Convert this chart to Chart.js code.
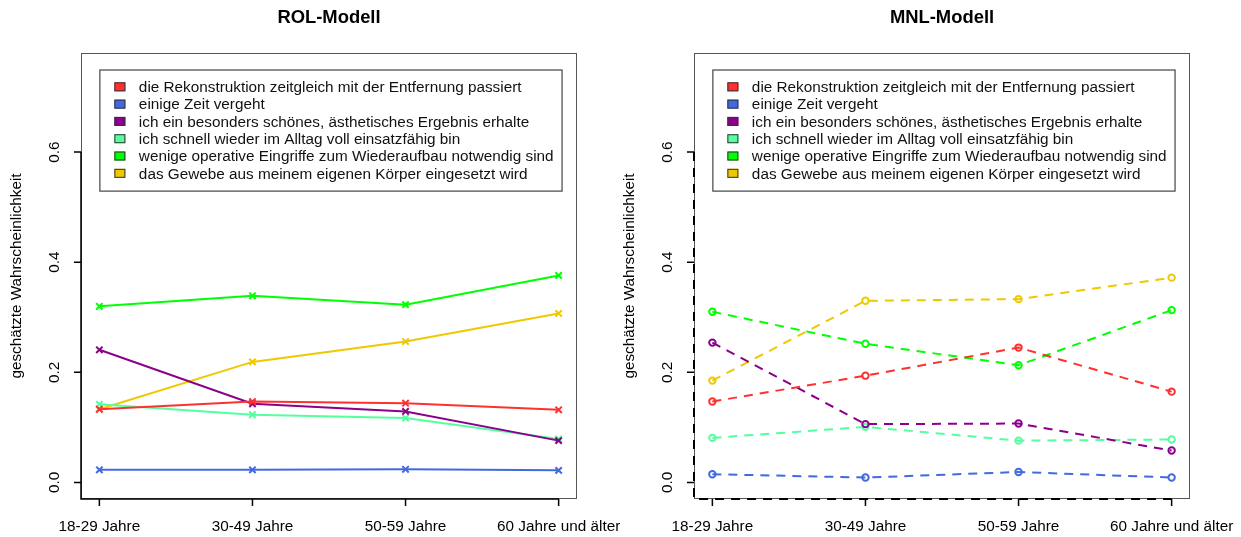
<!DOCTYPE html>
<html>
<head>
<meta charset="utf-8">
<script src="https://cdn.jsdelivr.net/npm/chart.js@4.4.1/dist/chart.umd.min.js"></script>
<style>
  body { margin: 0; background: #fff; }
  canvas { position: absolute; top: 0; }
</style>
</head>
<body>
<canvas id="rolChart" width="620" height="537" style="left:0"></canvas>
<canvas id="mnlChart" width="621" height="537" style="left:620px"></canvas>
<script>
// categories and legend texts
const ageGroups = ['18-29 Jahre', '30-49 Jahre', '50-59 Jahre', '60 Jahre und älter'];
const preferenceLabels = [
    'die Rekonstruktion zeitgleich mit der Entfernung passiert',
    'einige Zeit vergeht',
    'ich ein besonders schönes, ästhetisches Ergebnis erhalte',
    'ich schnell wieder im Alltag voll einsatzfähig bin',
    'wenige operative Eingriffe zum Wiederaufbau notwendig sind',
    'das Gewebe aus meinem eigenen Körper eingesetzt wird'
];
const yTicks = [0, 0.2, 0.4, 0.6];

// ROL-Modell (estimated probabilities)
const rolZeitgleich = [0.133, 0.147, 0.144, 0.132];
const rolZeitVergeht = [0.023, 0.023, 0.024, 0.022];
const rolAesthetik = [0.241, 0.143, 0.129, 0.076];
const rolAlltag = [0.142, 0.123, 0.117, 0.079];
const rolWenigeEingriffe = [0.320, 0.339, 0.323, 0.376];
const rolEigenesGewebe = [0.133, 0.219, 0.256, 0.307];

// MNL-Modell
const mnlZeitgleich = [0.147, 0.194, 0.245, 0.165];
const mnlZeitVergeht = [0.015, 0.009, 0.019, 0.009];
const mnlAesthetik = [0.254, 0.106, 0.107, 0.058];
const mnlAlltag = [0.081, 0.101, 0.076, 0.078];
const mnlWenigeEingriffe = [0.310, 0.252, 0.213, 0.313];
const mnlEigenesGewebe = [0.185, 0.330, 0.333, 0.372];

const seriesColors = ['#FF3030', '#4169E1', '#8B008B', '#54FF9F', '#00FF00', '#EEC900'];
const FONT = '"Liberation Sans", Arial, sans-serif';

// draws R-style box, axes, title and legend around the chart area
const basePlot = {
    id: 'basePlot',
    afterDraw(chart, args, opts) {
        const ctx = chart.ctx;
        const area = chart.chartArea;
        const xs = chart.scales.x;
        const ys = chart.scales.y;
        ctx.save();

        // plot box
        ctx.strokeStyle = '#555';
        ctx.lineWidth = 1;
        ctx.strokeRect(area.left + 0.5, area.top + 0.5, area.right - area.left - 1, area.bottom - area.top - 1);

        // axes
        ctx.strokeStyle = '#000';
        ctx.lineWidth = opts.dashed ? 2 : 1.5;
        ctx.setLineDash(opts.dashed ? [9, 7] : []);
        ctx.beginPath();
        ctx.moveTo(area.left, ys.getPixelForValue(yTicks[yTicks.length - 1]));
        ctx.lineTo(area.left, area.bottom);
        ctx.lineTo(xs.getPixelForValue(ageGroups.length), area.bottom);
        ctx.stroke();
        ctx.setLineDash([]);
        ctx.lineWidth = 1.5;
        ctx.beginPath();
        yTicks.forEach(v => {
            const y = ys.getPixelForValue(v);
            ctx.moveTo(area.left - 7, y);
            ctx.lineTo(area.left, y);
        });
        ageGroups.forEach((g, i) => {
            const x = xs.getPixelForValue(i + 1);
            ctx.moveTo(x, area.bottom);
            ctx.lineTo(x, area.bottom + 7);
        });
        ctx.stroke();

        // tick labels
        ctx.fillStyle = '#000';
        ctx.font = '15.3px ' + FONT;
        ctx.textAlign = 'center';
        ctx.textBaseline = 'middle';
        ageGroups.forEach((g, i) => {
            ctx.fillText(g, xs.getPixelForValue(i + 1), area.bottom + 28);
        });
        yTicks.forEach(v => {
            ctx.save();
            ctx.translate(area.left - 26, ys.getPixelForValue(v));
            ctx.rotate(-Math.PI / 2);
            ctx.fillText(v.toFixed(1), 0, 0);
            ctx.restore();
        });

        // y title
        ctx.save();
        ctx.translate(area.left - 64, (area.top + area.bottom) / 2);
        ctx.rotate(-Math.PI / 2);
        ctx.fillText('geschätzte Wahrscheinlichkeit', 0, 0);
        ctx.restore();

        // main title
        ctx.font = 'bold 18.4px ' + FONT;
        ctx.fillText(opts.title, (area.left + area.right) / 2, 18);

        // legend at (1, 0.75)
        ctx.font = '15.3px ' + FONT;
        ctx.textAlign = 'left';
        const lx = xs.getPixelForValue(1);
        const ly = ys.getPixelForValue(0.75);
        const rowH = 17.3;
        const labels = chart.data.datasets.map(d => d.label);
        const maxW = Math.max(...labels.map(t => ctx.measureText(t).width));
        const boxW = 39.5 + maxW + 8;
        const boxH = rowH * (labels.length + 1);
        ctx.fillStyle = '#fff';
        ctx.fillRect(lx, ly, boxW, boxH);
        ctx.strokeStyle = '#444';
        ctx.lineWidth = 1.2;
        ctx.strokeRect(lx + 0.5, ly + 0.5, boxW, boxH);
        chart.data.datasets.forEach((d, i) => {
            const cy = ly + rowH + i * rowH;
            ctx.fillStyle = d.borderColor;
            ctx.fillRect(lx + 15, cy - 4.5, 11, 9);
            ctx.strokeStyle = '#333';
            ctx.lineWidth = 1;
            ctx.strokeRect(lx + 15.5, cy - 4, 10, 8);
            ctx.fillStyle = '#111';
            ctx.fillText(d.label, lx + 39.5, cy + 1);
        });
        ctx.restore();
    }
};

function makeChart(canvasId, title, seriesList, dashed, padding) {
    const datasets = seriesList.map((values, s) => ({
        label: preferenceLabels[s],
        data: values.map((v, i) => ({ x: i + 1, y: v })),
        borderColor: seriesColors[s],
        backgroundColor: dashed ? 'rgba(255,255,255,0)' : seriesColors[s],
        borderWidth: 2,
        borderDash: dashed ? [9, 7] : [],
        pointStyle: dashed ? 'circle' : 'crossRot',
        pointRadius: dashed ? 3.2 : 4.5,
        pointBorderWidth: 2,
        tension: 0
    }));
    return new Chart(document.getElementById(canvasId), {
        type: 'line',
        data: { datasets },
        options: {
            responsive: false,
            animation: false,
            devicePixelRatio: 1,
            layout: { padding },
            plugins: {
                legend: { display: false },
                title: { display: false },
                tooltip: { enabled: false },
                basePlot: { title, dashed }
            },
            scales: {
                x: { type: 'linear', min: 0.88, max: 4.12, display: false },
                y: { type: 'linear', min: -0.03, max: 0.78, display: false }
            }
        },
        plugins: [basePlot]
    });
}

makeChart('rolChart', 'ROL-Modell',
    [rolZeitgleich, rolZeitVergeht, rolAesthetik, rolAlltag, rolWenigeEingriffe, rolEigenesGewebe],
    false, { left: 81, right: 43, top: 53, bottom: 38 });

makeChart('mnlChart', 'MNL-Modell',
    [mnlZeitgleich, mnlZeitVergeht, mnlAesthetik, mnlAlltag, mnlWenigeEingriffe, mnlEigenesGewebe],
    true, { left: 74, right: 51, top: 53, bottom: 38 });
</script>
</body>
</html>
